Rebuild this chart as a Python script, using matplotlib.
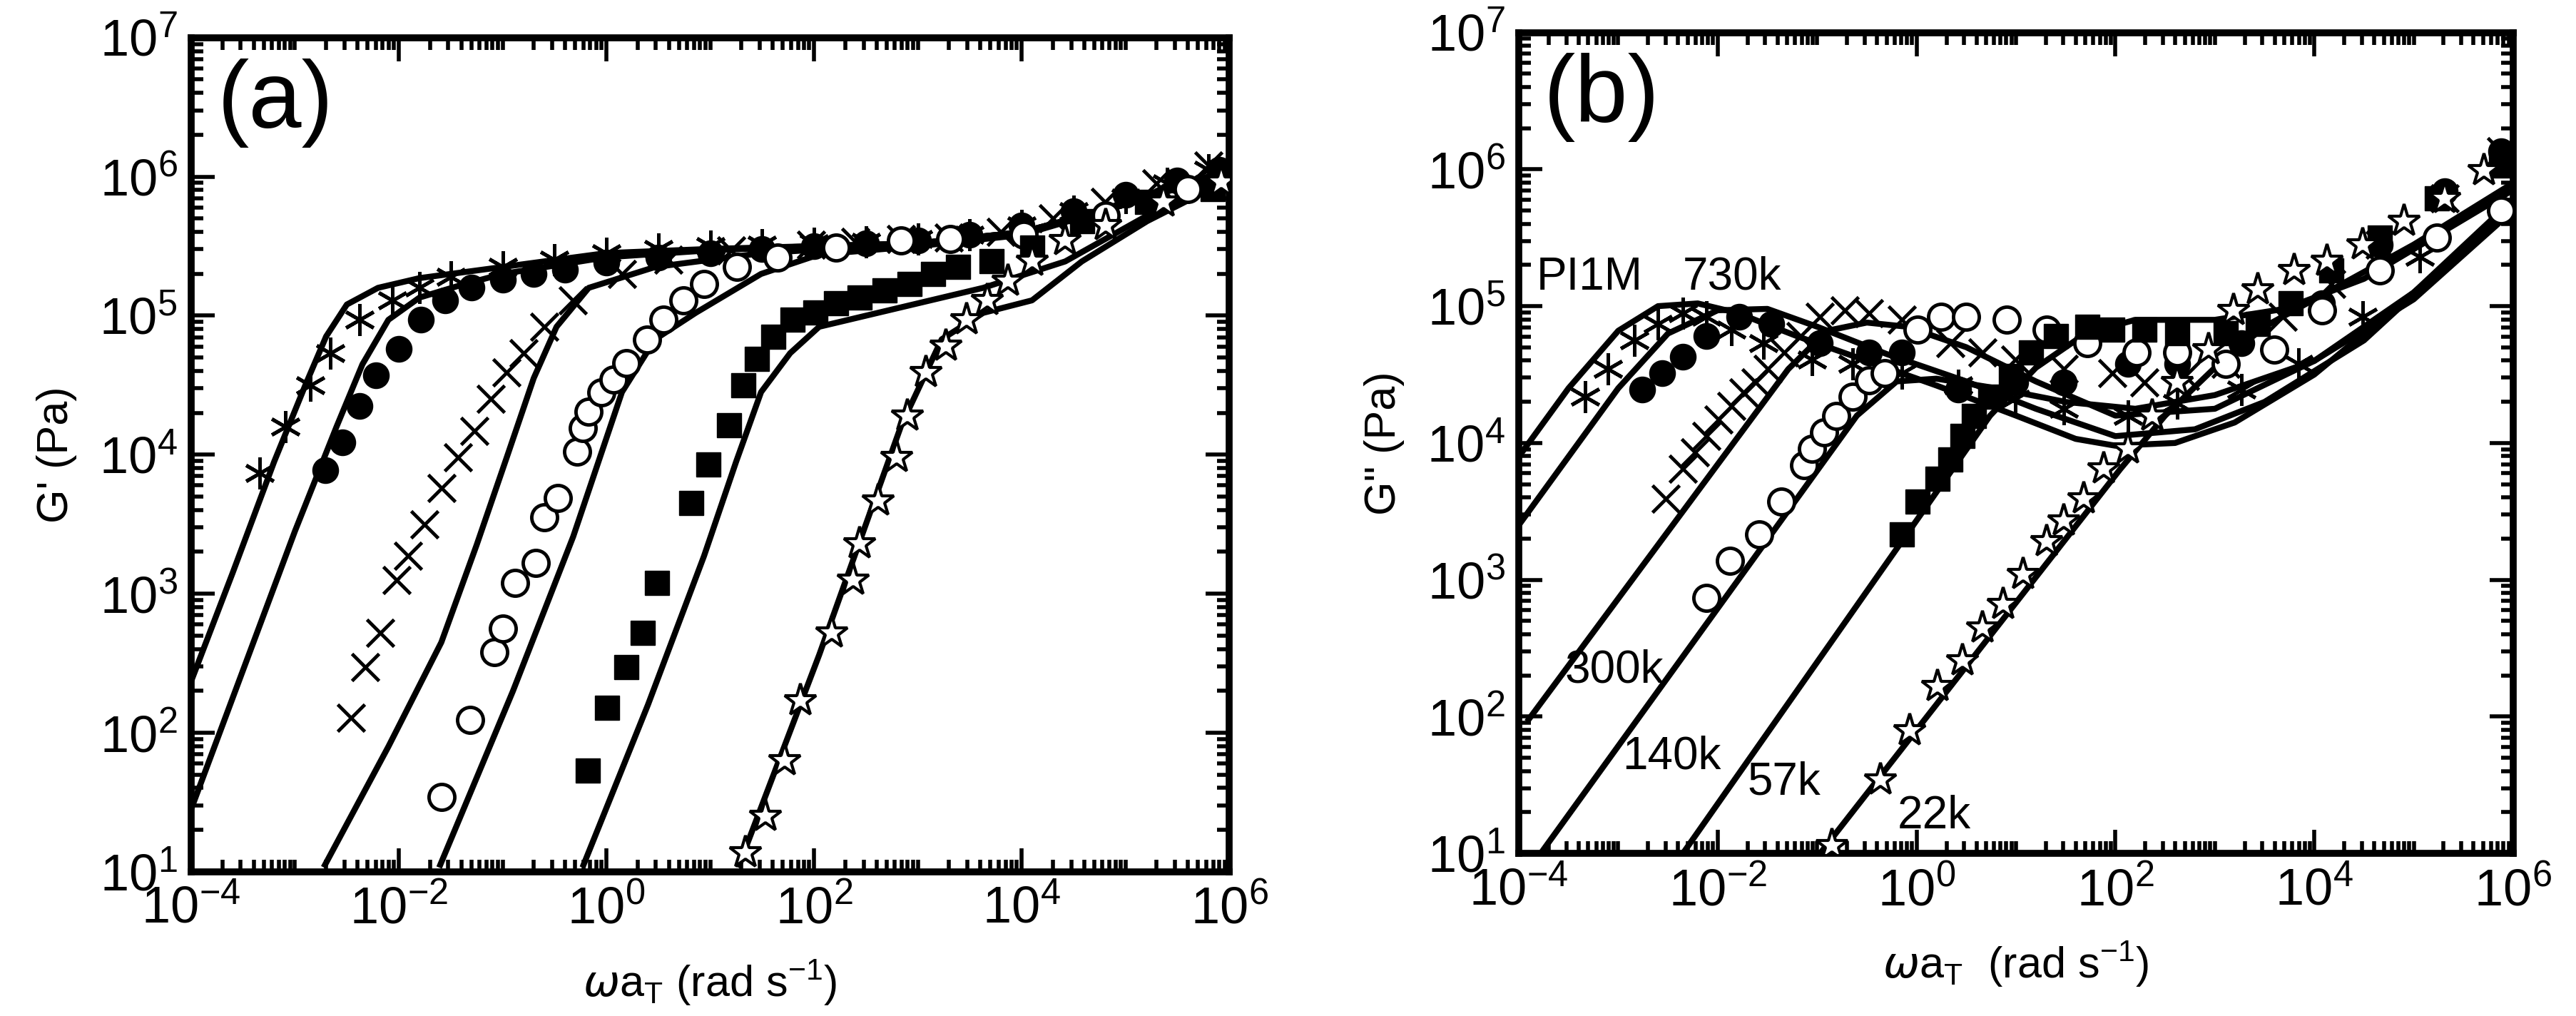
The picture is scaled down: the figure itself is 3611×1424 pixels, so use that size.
import numpy as np
import matplotlib.pyplot as plt
from matplotlib.ticker import LogLocator, FixedLocator, NullFormatter

plt.rcParams['font.family'] = ['Liberation Sans', 'DejaVu Sans']
plt.rcParams['mathtext.fontset'] = 'custom'
plt.rcParams['mathtext.rm'] = 'Liberation Sans'

# ---- panel (a): G' data, (log10 x, log10 y)
a_pi1m = [(-3.34, 3.87), (-3.09, 4.20), (-2.85, 4.50), (-2.66, 4.73), (-2.38, 4.97), (-2.06, 5.11),
          (-1.8, 5.2), (-1.5, 5.28), (-1.0, 5.35), (-0.5, 5.4), (0, 5.45), (0.5, 5.48), (1, 5.5),
          (1.5, 5.51), (2, 5.52), (2.5, 5.53), (3, 5.55), (3.5, 5.58), (4, 5.65), (4.5, 5.75),
          (5, 5.85), (5.4, 5.95), (5.8, 6.05)]
a_730k = [(-2.71, 3.89), (-2.54, 4.09), (-2.38, 4.35), (-2.22, 4.57), (-2.0, 4.76), (-1.79, 4.97),
          (-1.55, 5.11), (-1.3, 5.2), (-1.0, 5.26), (-0.7, 5.3), (-0.4, 5.33), (0, 5.38), (0.5, 5.42),
          (1, 5.45), (1.5, 5.48), (2, 5.5), (2.5, 5.52), (3, 5.54), (3.5, 5.58), (4, 5.65),
          (4.5, 5.75), (5, 5.87), (5.5, 5.97), (5.9, 6.05)]
a_300k = [(-2.46, 2.11), (-2.32, 2.47), (-2.18, 2.72), (-2.02, 3.10), (-1.91, 3.27), (-1.75, 3.50),
          (-1.59, 3.76), (-1.43, 3.98), (-1.27, 4.17), (-1.11, 4.40), (-0.96, 4.59), (-0.80, 4.73),
          (-0.60, 4.92), (-0.32, 5.11), (0.15, 5.30), (0.6, 5.4), (1.2, 5.47), (1.97, 5.51),
          (2.4, 5.53), (2.84, 5.55), (3.3, 5.56), (3.8, 5.6), (4.3, 5.7), (4.8, 5.82), (5.3, 5.95),
          (5.8, 6.08)]
a_140k = [(-1.59, 1.54), (-1.31, 2.09), (-1.08, 2.58), (-1.0, 2.75), (-0.88, 3.08), (-0.68, 3.22),
          (-0.60, 3.55), (-0.47, 3.69), (-0.28, 4.02), (-0.23, 4.19), (-0.17, 4.31), (-0.05, 4.45),
          (0.07, 4.54), (0.19, 4.66), (0.39, 4.83), (0.55, 4.97), (0.74, 5.11), (0.94, 5.23),
          (1.26, 5.35), (1.65, 5.42), (2.21, 5.49), (2.84, 5.54), (3.31, 5.55), (4.02, 5.58),
          (4.81, 5.72), (5.6, 5.91)]
a_57k = [(-0.18, 1.73), (0.01, 2.18), (0.19, 2.47), (0.35, 2.72), (0.49, 3.08), (0.82, 3.65),
         (0.98, 3.93), (1.18, 4.21), (1.32, 4.50), (1.45, 4.69), (1.61, 4.85), (1.79, 4.97),
         (2.01, 5.02), (2.21, 5.09), (2.44, 5.13), (2.68, 5.18), (2.92, 5.23), (3.15, 5.30),
         (3.39, 5.35), (3.71, 5.39), (4.10, 5.49), (4.58, 5.68), (5.21, 5.82), (5.84, 5.91)]
a_22k = [(1.34, 1.14), (1.53, 1.40), (1.72, 1.80), (1.87, 2.23), (2.17, 2.72), (2.38, 3.10),
         (2.44, 3.36), (2.62, 3.67), (2.80, 3.98), (2.90, 4.28), (3.08, 4.59), (3.27, 4.78),
         (3.47, 4.97), (3.67, 5.11), (3.87, 5.25), (4.10, 5.39), (4.42, 5.54), (4.81, 5.65),
         (5.37, 5.82), (5.92, 5.96)]

# model curves, panel (a)
a_fit = [
    [(-4, 2.37), (-3.6, 3.15), (-3.2, 3.95), (-2.9, 4.5), (-2.7, 4.85), (-2.5, 5.08), (-2.2, 5.2),
     (-1.8, 5.27), (-1, 5.35), (0, 5.45), (1, 5.48), (2, 5.5), (3, 5.52), (4, 5.6), (5, 5.8), (6, 6.05)],
    [(-4, 1.45), (-3.5, 2.45), (-3, 3.45), (-2.6, 4.2), (-2.35, 4.65), (-2.1, 4.97), (-1.8, 5.13),
     (-1.4, 5.22), (-1, 5.3), (0, 5.42), (1, 5.47), (2, 5.5), (3, 5.52), (4, 5.6), (5, 5.8), (6, 6.05)],
    [(-2.71, 1.05), (-2.1, 1.9), (-1.59, 2.65), (-1.25, 3.35), (-0.96, 3.98), (-0.7, 4.55),
     (-0.48, 4.92), (-0.17, 5.2), (0.47, 5.35), (1.5, 5.45), (3, 5.52), (4, 5.6), (5, 5.8), (6, 6.05)],
    [(-1.6, 1.05), (-0.9, 2.3), (-0.32, 3.41), (0.15, 4.45), (0.47, 4.83), (0.86, 5.02), (1.49, 5.3),
     (2.05, 5.44), (3, 5.5), (4, 5.58), (5, 5.8), (6, 6.03)],
    [(-0.22, 1.05), (0.4, 2.2), (0.94, 3.27), (1.25, 3.95), (1.49, 4.45), (1.77, 4.73), (2.05, 4.92),
     (2.84, 5.06), (3.63, 5.20), (4.42, 5.39), (5.21, 5.72), (6, 6.0)],
    [(1.28, 1.05), (2.05, 2.56), (2.5, 3.5), (2.84, 4.21), (3.23, 4.83), (3.63, 5.02), (4.10, 5.11),
     (4.58, 5.39), (5.21, 5.68), (6, 5.98)],
]

# ---- panel (b): G'' data
b_pi1m = [(-3.33, 4.34), (-3.10, 4.54), (-2.84, 4.75), (-2.6, 4.87), (-2.35, 4.95), (-2.11, 4.92),
          (-1.86, 4.83), (-1.54, 4.73), (-1.05, 4.61), (-0.64, 4.58), (-0.15, 4.51), (0.42, 4.42),
          (0.99, 4.32), (1.48, 4.25), (2.13, 4.2), (2.62, 4.29), (3.27, 4.39), (3.84, 4.58),
          (4.49, 4.92), (5.06, 5.36), (5.88, 5.74)]
b_730k = [(-2.76, 4.39), (-2.56, 4.51), (-2.35, 4.63), (-2.11, 4.78), (-1.78, 4.92), (-1.46, 4.87),
          (-0.97, 4.73), (-0.48, 4.66), (-0.15, 4.66), (0.42, 4.39), (0.99, 4.44), (1.48, 4.44),
          (2.13, 4.58), (2.62, 4.58), (3.27, 4.73), (4.08, 5.02), (4.66, 5.45), (5.31, 5.84),
          (5.88, 6.13)]
b_300k = [(-2.52, 3.59), (-2.35, 3.81), (-2.23, 3.93), (-2.11, 4.05), (-1.99, 4.17), (-1.86, 4.27),
          (-1.74, 4.37), (-1.62, 4.44), (-1.5, 4.54), (-1.33, 4.66), (-1.17, 4.78), (-0.97, 4.92),
          (-0.72, 4.97), (-0.48, 4.95), (-0.15, 4.9), (0.34, 4.73), (0.66, 4.66), (0.99, 4.61),
          (1.48, 4.54), (1.97, 4.51), (2.29, 4.44), (2.70, 4.49), (3.11, 4.58), (3.68, 4.92),
          (4.17, 5.16), (4.66, 5.45), (5.31, 5.79), (5.88, 6.13)]
b_140k = [(-2.11, 2.87), (-1.88, 3.14), (-1.58, 3.33), (-1.36, 3.57), (-1.13, 3.84), (-1.05, 3.96),
          (-0.93, 4.08), (-0.81, 4.2), (-0.64, 4.34), (-0.48, 4.46), (-0.32, 4.51), (0.01, 4.83),
          (0.25, 4.92), (0.5, 4.92), (0.91, 4.9), (1.31, 4.83), (1.72, 4.73), (2.21, 4.66),
          (2.62, 4.66), (3.11, 4.58), (3.6, 4.68), (4.08, 4.97), (4.66, 5.26), (5.23, 5.5),
          (5.88, 5.7)]
b_57k = [(-0.15, 3.33), (0.01, 3.57), (0.21, 3.74), (0.34, 3.88), (0.46, 4.05), (0.58, 4.2),
         (0.74, 4.34), (0.95, 4.49), (1.15, 4.66), (1.40, 4.78), (1.72, 4.85), (1.97, 4.83),
         (2.29, 4.83), (2.62, 4.8), (3.11, 4.8), (3.43, 4.87), (3.76, 5.02), (4.17, 5.26),
         (4.66, 5.5), (5.23, 5.79), (5.88, 6.03)]
b_22k = [(-0.85, 1.06), (-0.36, 1.54), (-0.07, 1.9), (0.21, 2.22), (0.46, 2.41), (0.66, 2.65),
         (0.87, 2.82), (1.07, 3.04), (1.31, 3.28), (1.48, 3.43), (1.68, 3.59), (1.88, 3.81),
         (2.13, 3.96), (2.37, 4.2), (2.62, 4.44), (2.94, 4.68), (3.19, 4.97), (3.43, 5.12),
         (3.80, 5.26), (4.13, 5.33), (4.49, 5.45), (4.9, 5.62), (5.31, 5.79), (5.71, 5.99)]

b_fit = [
    [(-4, 3.9), (-3.5, 4.4), (-3.0, 4.82), (-2.6, 5.0), (-2.2, 5.02), (-1.8, 4.95), (-1.2, 4.78),
     (-0.5, 4.6), (0.2, 4.42), (1, 4.2), (1.6, 4.03), (2, 3.98), (2.6, 4.0), (3.2, 4.15), (4, 4.5),
     (5, 5.1), (6, 5.78)],
    [(-4, 3.4), (-3.0, 4.4), (-2.5, 4.8), (-2.0, 4.97), (-1.5, 4.98), (-1, 4.85), (-0.3, 4.65),
     (0.5, 4.45), (1.2, 4.25), (2, 4.05), (2.8, 4.1), (3.5, 4.3), (4.5, 4.75), (6, 5.75)],
    [(-3.9, 1.98), (-1.29, 4.54), (-0.9, 4.82), (-0.5, 4.88), (-0.1, 4.85), (0.5, 4.7), (1.2, 4.45),
     (2, 4.2), (3, 4.25), (4, 4.6), (5, 5.1), (6, 5.7)],
    [(-3.78, 1.0), (-0.6, 4.2), (-0.2, 4.45), (0.2, 4.47), (0.8, 4.4), (1.5, 4.3), (2.2, 4.25),
     (3, 4.35), (4, 4.6), (5, 5.05), (6, 5.7)],
    [(-2.35, 1.0), (0.74, 4.2), (1.2, 4.55), (1.7, 4.8), (2.2, 4.9), (3, 4.9), (3.7, 4.98),
     (4.5, 5.2), (6, 5.85)],
    [(-0.97, 1.0), (2.05, 3.81), (2.5, 4.2), (3, 4.55), (3.5, 4.85), (4, 5.05), (4.5, 5.25),
     (5, 5.45), (6, 5.9)],
]

b_labels = ['PI1M', '730k', '300k', '140k', '57k', '22k']
b_label_pos = [(-3.82, 5.21), (-2.35, 5.21), (-3.54, 2.34), (-2.96, 1.71), (-1.7, 1.52), (-0.19, 1.27)]

x_major = [1e-4, 1e-2, 1e0, 1e2, 1e4, 1e6]

ms = 26
styles = [
    dict(marker=(6, 2, 0), ms=ms + 6, color='black', mew=3.5, ls='none'),           # asterisk
    dict(marker='o', ms=ms, color='black', ls='none'),                             # filled circle
    dict(marker='x', ms=ms + 2, color='black', mew=3.5, ls='none'),                # cross
    dict(marker='o', ms=ms, mfc='white', mec='black', mew=3.5, ls='none'),         # open circle
    dict(marker='s', ms=ms - 2, color='black', ls='none'),                         # filled square
    dict(marker='*', ms=ms + 8, mfc='white', mec='black', mew=3, ls='none'),       # star
]


def p(pts):
    arr = np.array(pts)
    return 10 ** arr[:, 0], 10 ** arr[:, 1]


def setup(ax, ylabel, xlabel, tag):
    ax.set_xscale('log')
    ax.set_yscale('log')
    ax.set_xlim(1e-4, 1e6)
    ax.set_ylim(1e1, 1e7)
    ax.xaxis.set_major_locator(FixedLocator(x_major))
    ax.xaxis.set_minor_locator(LogLocator(base=10, subs=np.arange(1, 10), numticks=100))
    ax.xaxis.set_minor_formatter(NullFormatter())
    ax.yaxis.set_major_locator(LogLocator(base=10, numticks=10))
    ax.yaxis.set_minor_locator(LogLocator(base=10, subs=np.arange(2, 10), numticks=100))
    ax.yaxis.set_minor_formatter(NullFormatter())
    ax.tick_params(which='both', direction='in', top=True, right=True, width=4, labelsize=52, pad=14)
    ax.tick_params(which='major', length=24)
    ax.tick_params(which='minor', length=12)
    for s in ax.spines.values():
        s.set_linewidth(7)
    ax.set_ylabel(ylabel, fontsize=44, labelpad=22)
    ax.set_xlabel(xlabel, fontsize=44, labelpad=24)
    ax.text(0.025, 0.975, tag, transform=ax.transAxes, fontsize=96, va='top', ha='left')


fig = plt.figure(figsize=(36.11, 14.24), dpi=100)
ax1 = fig.add_axes([0.0742, 0.142, 0.403, 0.821])
ax2 = fig.add_axes([0.5896, 0.160, 0.386, 0.808])

for line in a_fit:
    ax1.plot(*p(line), color='black', lw=6, zorder=2)
for d, st in zip([a_pi1m, a_730k, a_300k, a_140k, a_57k, a_22k], styles):
    ax1.plot(*p(d), zorder=3, **st)
setup(ax1, "G' (Pa)", r'$\omega$a$_\mathregular{T}$ (rad s$^\mathregular{-1}$)', '(a)')

for line in b_fit:
    ax2.plot(*p(line), color='black', lw=6, zorder=2)
for d, st in zip([b_pi1m, b_730k, b_300k, b_140k, b_57k, b_22k], styles):
    ax2.plot(*p(d), zorder=3, **st)
for lab, (lx, ly) in zip(b_labels, b_label_pos):
    ax2.text(10 ** lx, 10 ** ly, lab, fontsize=46, va='center', ha='left', zorder=4)
setup(ax2, 'G" (Pa)', r'$\omega$a$_\mathregular{T}$  (rad s$^\mathregular{-1}$)', '(b)')

fig.savefig('out.png', dpi=100)
